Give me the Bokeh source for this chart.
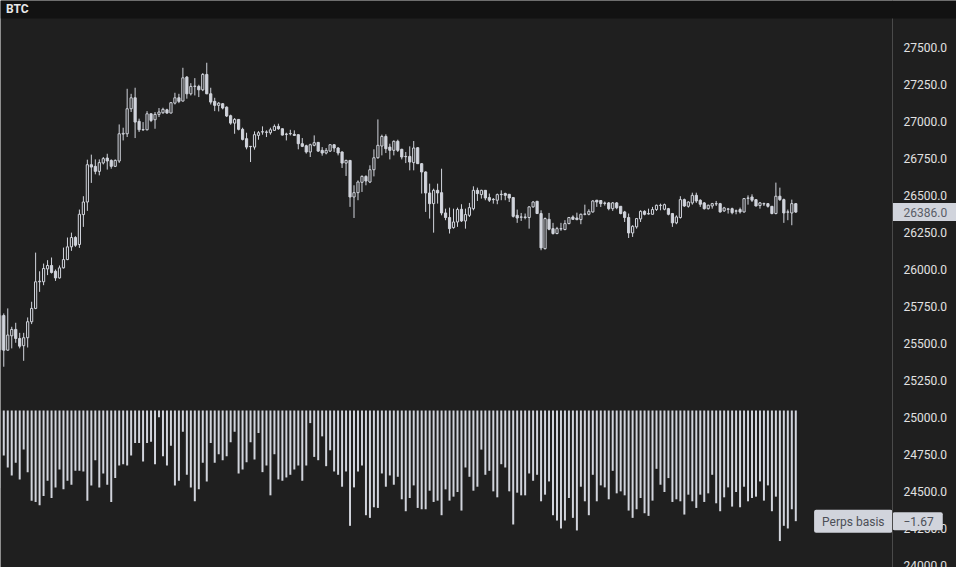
from bokeh.plotting import figure
from bokeh.models import Range1d, Label, Span, BoxAnnotation, ColumnDataSource
from bokeh.embed import file_html
from bokeh.resources import INLINE
from bokeh.core.properties import value

# ---------------- data ----------------
symbol = "BTC"
last_price = 26386.0
basis_label = "Perps basis"
basis_last = -1.67

opens = [25455, 25687, 25453, 25550, 25593, 25532, 25483, 25537, 25645, 25735, 25915,
         25915, 26002, 26025, 25986, 25941, 26009, 26065, 26151, 26214, 26167,
         26369, 26454, 26706, 26695, 26661, 26718, 26751, 26735, 26695, 26731,
         26913, 26915, 27084, 27158, 26999, 26942, 26942, 27050, 27010, 27046,
         27057, 27077, 27055, 27122, 27158, 27136, 27298, 27185, 27235, 27235,
         27212, 27316, 27185, 27134, 27107, 27118, 27095, 27037, 26987, 27012,
         26945, 26882, 26830, 26825, 26904, 26927, 26927, 26922, 26938, 26965,
         26949, 26913, 26915, 26911, 26909, 26848, 26834, 26792, 26837, 26857,
         26803, 26785, 26798, 26841, 26819, 26792, 26717, 26735, 26488, 26517,
         26587, 26627, 26589, 26672, 26753, 26832, 26897, 26825, 26803, 26864,
         26810, 26762, 26762, 26720, 26821, 26713, 26657, 26515, 26443, 26533,
         26517, 26380, 26349, 26281, 26319, 26405, 26326, 26364, 26409, 26533,
         26504, 26533, 26484, 26472, 26466, 26506, 26511, 26506, 26484, 26364,
         26351, 26349, 26349, 26421, 26459, 26376, 26139, 26337, 26274, 26241,
         26272, 26268, 26308, 26353, 26346, 26335, 26371, 26371, 26387, 26466,
         26464, 26447, 26448, 26409, 26448, 26425, 26387, 26349, 26245, 26286,
         26340, 26391, 26373, 26371, 26403, 26430, 26405, 26409, 26376, 26313,
         26349, 26470, 26425, 26448, 26499, 26466, 26448, 26409, 26427, 26441,
         26443, 26394, 26405, 26409, 26392, 26403, 26387, 26479, 26488, 26470,
         26430, 26441, 26443, 26425, 26376, 26493, 26470, 26385, 26380, 26443]
highs = [25700, 25701, 25735, 25611, 25638, 25570, 25570, 25674, 25780, 26112, 25986,
         26038, 26061, 26079, 25998, 26025, 26146, 26214, 26247, 26223, 26403,
         26493, 26740, 26774, 26742, 26742, 26758, 26780, 26742, 26742, 26978,
         26956, 27219, 27185, 27226, 27017, 26994, 27068, 27052, 27062, 27089,
         27091, 27084, 27129, 27192, 27185, 27361, 27305, 27257, 27291, 27246,
         27325, 27395, 27226, 27158, 27129, 27122, 27100, 27044, 27021, 27014,
         26956, 26922, 26832, 26931, 26933, 26965, 26938, 26956, 26978, 26983,
         26951, 26922, 26942, 26938, 26911, 26886, 26841, 26848, 26904, 26859,
         26825, 26819, 26843, 26843, 26825, 26796, 26740, 26737, 26567, 26600,
         26634, 26634, 26702, 26810, 27012, 26909, 26911, 26848, 26870, 26875,
         26814, 26792, 26830, 26866, 26823, 26717, 26661, 26578, 26544, 26578,
         26679, 26409, 26416, 26409, 26416, 26439, 26409, 26448, 26560, 26551,
         26537, 26535, 26511, 26481, 26511, 26533, 26517, 26508, 26488, 26403,
         26380, 26376, 26425, 26461, 26461, 26398, 26349, 26380, 26313, 26286,
         26313, 26331, 26353, 26364, 26382, 26376, 26436, 26405, 26466, 26468,
         26467, 26457, 26454, 26454, 26454, 26425, 26394, 26376, 26297, 26346,
         26398, 26398, 26409, 26421, 26436, 26443, 26443, 26414, 26380, 26364,
         26493, 26477, 26459, 26517, 26517, 26472, 26454, 26436, 26448, 26461,
         26448, 26421, 26414, 26416, 26403, 26416, 26481, 26499, 26506, 26472,
         26454, 26450, 26445, 26427, 26585, 26551, 26477, 26403, 26470, 26445]
lows = [25440, 25341, 25449, 25465, 25503, 25465, 25381, 25471, 25629, 25730, 25847,
        25892, 25960, 25971, 25921, 25937, 26005, 26061, 26124, 26151, 26144,
        26286, 26394, 26583, 26641, 26634, 26708, 26673, 26679, 26690, 26718,
        26870, 26893, 27062, 26886, 26927, 26934, 26938, 26994, 26949, 27028,
        27050, 27050, 27053, 27113, 27122, 27134, 27152, 27174, 27174, 27163,
        27203, 27183, 27113, 27068, 27066, 27080, 27028, 26976, 26915, 26938,
        26870, 26810, 26724, 26808, 26875, 26909, 26893, 26909, 26934, 26942,
        26904, 26870, 26904, 26900, 26810, 26825, 26781, 26758, 26830, 26792,
        26767, 26776, 26792, 26792, 26769, 26684, 26630, 26421, 26346, 26466,
        26522, 26567, 26582, 26627, 26747, 26769, 26785, 26742, 26769, 26792,
        26742, 26717, 26668, 26668, 26713, 26511, 26387, 26342, 26247, 26443,
        26364, 26331, 26241, 26274, 26286, 26319, 26274, 26353, 26398, 26461,
        26477, 26466, 26454, 26443, 26439, 26466, 26466, 26454, 26349, 26313,
        26326, 26337, 26274, 26416, 26374, 26128, 26133, 26263, 26234, 26236,
        26259, 26263, 26304, 26335, 26331, 26304, 26364, 26364, 26382, 26421,
        26420, 26430, 26398, 26394, 26405, 26371, 26319, 26211, 26218, 26274,
        26319, 26364, 26369, 26369, 26394, 26398, 26398, 26364, 26286, 26304,
        26342, 26421, 26416, 26436, 26448, 26421, 26403, 26403, 26409, 26427,
        26382, 26387, 26376, 26371, 26371, 26376, 26382, 26436, 26454, 26425,
        26409, 26427, 26416, 26371, 26371, 26461, 26313, 26331, 26297, 26380]
closes = [25687, 25453, 25555, 25593, 25532, 25480, 25537, 25645, 25735, 25915, 25919,
          26005, 26025, 25978, 25941, 26009, 26065, 26151, 26214, 26162, 26371,
          26454, 26706, 26690, 26661, 26720, 26747, 26731, 26695, 26735, 26915,
          26918, 27084, 27158, 26994, 26942, 26944, 27050, 27005, 27046, 27062,
          27080, 27055, 27125, 27158, 27134, 27293, 27185, 27235, 27237, 27212,
          27316, 27185, 27129, 27107, 27122, 27089, 27035, 26987, 27012, 26945,
          26877, 26825, 26828, 26909, 26922, 26929, 26925, 26942, 26965, 26949,
          26906, 26911, 26917, 26904, 26848, 26830, 26792, 26841, 26855, 26798,
          26785, 26803, 26841, 26819, 26785, 26717, 26735, 26488, 26517, 26589,
          26627, 26596, 26672, 26753, 26837, 26897, 26814, 26803, 26864, 26803,
          26758, 26760, 26724, 26819, 26713, 26657, 26515, 26443, 26533, 26515,
          26380, 26349, 26274, 26319, 26403, 26326, 26369, 26416, 26533, 26511,
          26533, 26481, 26466, 26470, 26504, 26504, 26499, 26481, 26357, 26346,
          26353, 26353, 26421, 26454, 26376, 26144, 26342, 26270, 26241, 26274,
          26274, 26308, 26349, 26337, 26335, 26371, 26373, 26391, 26461, 26454,
          26443, 26445, 26409, 26448, 26415, 26376, 26349, 26245, 26290, 26342,
          26391, 26371, 26376, 26403, 26432, 26432, 26436, 26371, 26313, 26353,
          26470, 26427, 26454, 26499, 26461, 26439, 26409, 26432, 26443, 26443,
          26387, 26414, 26407, 26382, 26394, 26387, 26477, 26481, 26466, 26427,
          26448, 26443, 26425, 26376, 26493, 26470, 26380, 26387, 26443, 26386]
basis = [-1.17, -0.68, -0.86, -0.98, -0.79, -1.04, -0.59, -0.93, -1.36, -1.38,
         -1.43, -1.29, -1.06, -1.32, -1.16, -0.89, -1.19, -1.06, -1.12, -0.91,
         -0.91, -0.92, -1.36, -1.13, -0.75, -1.16, -0.95, -1.12, -1.38, -1.02,
         -0.83, -0.81, -0.83, -0.68, -0.49, -0.49, -0.77, -0.49, -0.47, -0.81,
         -0.10, -0.69, -0.83, -0.53, -1.13, -1.06, -0.32, -0.97, -1.16, -1.37,
         -1.19, -0.79, -1.07, -0.49, -0.79, -0.66, -0.75, -0.69, -0.48, -0.32,
         -0.95, -0.89, -0.78, -0.48, -0.74, -0.34, -0.93, -0.83, -1.28, -0.66,
         -1.04, -1.06, -1.01, -0.97, -0.89, -0.83, -1.06, -0.83, -0.19, -0.70,
         -0.75, -0.39, -0.84, -0.60, -0.92, -0.97, -1.15, -0.92, -1.74, -1.16,
         -0.92, -0.83, -1.58, -1.62, -1.46, -1.47, -0.95, -1.15, -0.98, -1.12,
         -1.00, -1.34, -1.52, -1.32, -1.13, -1.47, -1.49, -1.49, -1.21, -1.38,
         -1.36, -1.58, -1.19, -1.36, -1.30, -1.23, -1.51, -0.86, -1.00, -1.21,
         -1.15, -0.59, -0.97, -0.91, -1.22, -1.31, -0.81, -0.86, -1.22, -1.72,
         -1.24, -1.28, -1.28, -0.95, -1.06, -0.97, -1.37, -1.27, -1.07, -1.58,
         -1.66, -1.78, -1.66, -1.32, -1.62, -1.81, -1.15, -1.37, -1.58, -0.97,
         -1.37, -1.13, -1.16, -1.34, -0.91, -1.25, -1.22, -1.28, -1.51, -1.62,
         -1.49, -1.32, -1.55, -1.59, -1.36, -0.88, -1.12, -1.23, -1.02, -1.38,
         -1.34, -1.37, -1.57, -1.27, -1.37, -1.47, -1.27, -1.38, -1.25, -0.97,
         -1.40, -1.52, -1.31, -1.16, -1.45, -1.23, -1.46, -1.15, -1.37, -1.32,
         -1.30, -1.07, -1.36, -1.13, -1.52, -1.30, -1.97, -1.74, -1.78, -1.49,
         -1.67]
price_ticks = [24000 + 250 * j for j in range(15)]
price_tick_labels = [f"{t:.1f}" for t in price_ticks]

# ---------------- layout / style ----------------
BG = "#1f1f1f"
HEAD = "#121212"
FG = "#d1d4dc"
BOXTXT = "#4c4f57"
FONT = "Roboto"

X0, X1 = 0.176, 240.38          # candle-index range across the full canvas
AXIS_X = 224.3                   # price-scale separator position (index units)
LABEL_X = 227.06                 # where price-scale labels start
Y0, Y1 = 23984.5, 27815.5        # price range across the full canvas
HEADER_BOTTOM = 27693.9          # price level at the header's lower edge
HEADER_MID = 27754.7

idx = list(range(len(opens)))
up = [c >= o for o, c in zip(opens, closes)]
src = ColumnDataSource(dict(
    x=idx, o=opens, h=highs, l=lows, c=closes,
    top=[max(o, c) for o, c in zip(opens, closes)],
    bot=[min(o, c) for o, c in zip(opens, closes)],
    fill=[BG if u else FG for u in up],
))
bsrc = ColumnDataSource(dict(x=list(range(len(basis))), b=basis))
tsrc = ColumnDataSource(dict(x=[LABEL_X] * len(price_ticks), y=price_ticks,
                             t=price_tick_labels))

p = figure(width=956, height=567, toolbar_location=None, output_backend="svg", title=None,
           x_range=Range1d(X0, X1), y_range=Range1d(Y0, Y1),
           x_axis_location=None, y_axis_location=None, min_border=0,
           background_fill_color=BG, border_fill_color=BG, outline_line_color=None)
p.extra_y_ranges = {"basis": Range1d(-2.369, 6.187)}
p.grid.visible = False

# basis histogram (hangs down from zero)
p.vbar(x="x", top=0, bottom="b", width=0.5, source=bsrc, fill_color=FG,
       line_color=None, y_range_name="basis")

# candles
p.segment(x0="x", y0="l", x1="x", y1="h", source=src, line_color=FG, line_width=1)
p.vbar(x="x", top="top", bottom="bot", width=0.55, source=src, fill_color="fill",
       line_color=FG, line_width=1)

# price scale labels
p.text(x="x", y="y", text="t", source=tsrc, text_align="left", text_baseline="middle",
       text_color="#e2e2e2", text_font=value(FONT), text_font_size="12px")

# last price label on the price scale
p.add_layout(Label(x=AXIS_X, y=last_price, text=f"{last_price:.1f}", text_align="left",
                   text_baseline="middle", text_color="#5a5d66", text_font=FONT,
                   text_font_size="12px", background_fill_color=FG,
                   padding=dict(left=11, right=14, top=5, bottom=4)))
# basis labels
p.add_layout(Label(x=AXIS_X, y=basis_last, y_range_name="basis", text="\u22121.67",
                   text_align="left", text_baseline="middle", text_color=BOXTXT,
                   text_font=FONT, text_font_size="12px", background_fill_color=FG,
                   padding=dict(left=11, right=9, top=5, bottom=4), border_radius=2))
p.add_layout(Label(x=AXIS_X, y=basis_last, y_range_name="basis", text=basis_label,
                   text_align="right", text_baseline="middle", text_color=BOXTXT,
                   text_font=FONT, text_font_size="12px", background_fill_color=FG,
                   padding=dict(left=8, right=8, top=5, bottom=4), border_radius=2))

# price scale separator line
p.add_layout(Span(location=AXIS_X, dimension="height", line_color="#4a4a4a",
                  line_width=1, level="overlay"))

# header bar
p.add_layout(BoxAnnotation(bottom=HEADER_BOTTOM, fill_color=HEAD, fill_alpha=1.0,
                           line_color=None, level="overlay"))
p.add_layout(Label(x=1.56, y=HEADER_MID, text=symbol, text_align="left",
                   text_baseline="middle", text_color="#e8e8e8", text_font=FONT,
                   text_font_size="12px", text_font_style="bold", level="overlay"))

open("out.html", "w").write(file_html(p, INLINE))
